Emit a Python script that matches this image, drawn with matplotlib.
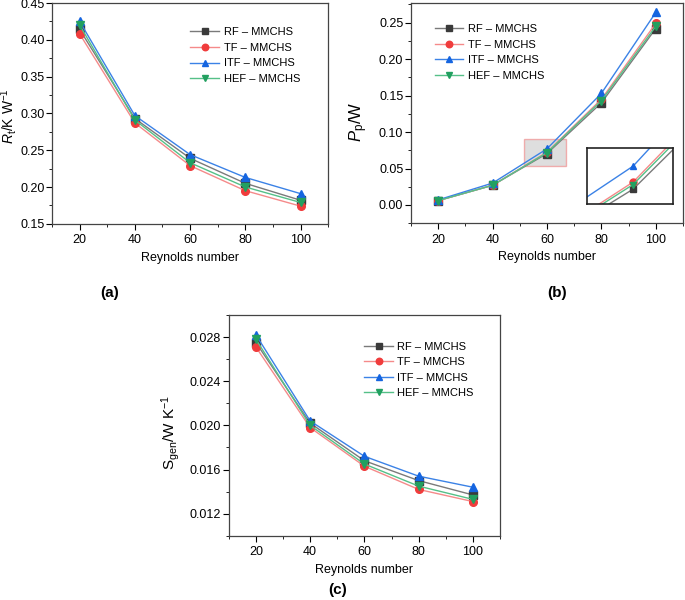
import numpy as np
import matplotlib

matplotlib.use("Agg")
import matplotlib.pyplot as plt
from matplotlib.patches import Rectangle
from matplotlib.ticker import MultipleLocator, FormatStrFormatter

plt.rcParams["font.family"] = ["Liberation Sans", "DejaVu Sans"]
plt.rcParams["mathtext.fontset"] = "custom"
plt.rcParams["mathtext.rm"] = "Liberation Sans"
plt.rcParams["mathtext.it"] = "Liberation Sans:italic"

reynolds = [20, 40, 60, 80, 100]
series = ["RF \u2013 MMCHS", "TF \u2013 MMCHS", "ITF \u2013 MMCHS", "HEF \u2013 MMCHS"]

# (a) total thermal resistance
rt_rf = [0.414, 0.293, 0.239, 0.205, 0.182]
rt_tf = [0.408, 0.287, 0.229, 0.195, 0.174]
rt_itf = [0.425, 0.297, 0.244, 0.213, 0.191]
rt_hef = [0.420, 0.291, 0.233, 0.200, 0.179]

# (b) pumping power
pp_rf = [0.006, 0.027, 0.0705, 0.140, 0.242]
pp_tf = [0.006, 0.027, 0.0725, 0.145, 0.249]
pp_itf = [0.007, 0.030, 0.077, 0.153, 0.264]
pp_hef = [0.006, 0.027, 0.0718, 0.143, 0.245]

# (c) entropy generation
sg_rf = [0.0275, 0.0202, 0.0168, 0.0150, 0.0137]
sg_tf = [0.0271, 0.0198, 0.0163, 0.0142, 0.0131]
sg_itf = [0.0282, 0.0204, 0.0172, 0.0154, 0.0144]
sg_hef = [0.0278, 0.0200, 0.0165, 0.0145, 0.0133]

line_colors = ["#7a7a7a", "#f58a8a", "#3b82e6", "#55c088"]
marker_colors = ["#3a3a3a", "#f03c3c", "#1565e0", "#22a060"]
markers = ["s", "o", "^", "v"]

fig = plt.figure(figsize=(6.85, 6.0), dpi=100)


def draw(ax, data, legend_loc, legend_anchor):
    for ys, lab, lc, mc, m in zip(data, series, line_colors, marker_colors, markers):
        ax.plot(reynolds, ys, color=lc, linewidth=1.0, marker=m, markersize=5.5,
                markerfacecolor=mc, markeredgecolor=mc, label=lab)
    ax.set_xlim(10, 110)
    ax.xaxis.set_major_locator(MultipleLocator(20))
    ax.xaxis.set_minor_locator(MultipleLocator(10))
    ax.tick_params(which="both", direction="out", labelsize=9, top=False, right=False)
    ax.tick_params(which="major", length=4)
    ax.tick_params(which="minor", length=2.5)
    ax.tick_params(axis="y", which="major", pad=1.5)
    for s in ax.spines.values():
        s.set_color("#444444")
        s.set_linewidth(0.9)
    ax.set_xlabel("Reynolds number", fontsize=9)
    ax.legend(loc=legend_loc, bbox_to_anchor=legend_anchor, frameon=False, fontsize=8,
              handlelength=2.6, labelspacing=0.5, handletextpad=0.4, markerscale=0.85)


# (a)
ax1 = fig.add_axes([0.076, 0.627, 0.403, 0.368])
draw(ax1, [rt_rf, rt_tf, rt_itf, rt_hef], "upper right", (0.935, 0.935))
ax1.set_ylim(0.15, 0.45)
ax1.yaxis.set_major_locator(MultipleLocator(0.05))
ax1.yaxis.set_minor_locator(MultipleLocator(0.025))
ax1.yaxis.set_major_formatter(FormatStrFormatter("%.2f"))
ax1.set_ylabel(r"$R_{\mathregular{t}}$/K W$^{\mathregular{-1}}$", fontsize=10)
ax1.yaxis.set_label_coords(-0.12, 0.489)

# (b)
ax2 = fig.add_axes([0.600, 0.628, 0.397, 0.367])
draw(ax2, [pp_rf, pp_tf, pp_itf, pp_hef], "upper left", (0.05, 0.95))
ax2.set_ylim(-0.025, 0.277)
ax2.yaxis.set_major_locator(MultipleLocator(0.05))
ax2.yaxis.set_minor_locator(MultipleLocator(0.025))
ax2.yaxis.set_major_formatter(FormatStrFormatter("%.2f"))
ax2.set_ylabel(r"$P_{\mathregular{p}}$/W", fontsize=12)
ax2.yaxis.set_label_coords(-0.15, 0.46)
ax2.add_patch(Rectangle((51.5, 0.053), 15.5, 0.038, facecolor="#c8c8c8", alpha=0.6,
                        edgecolor="#f08080", linewidth=1.0, zorder=0))

axin = fig.add_axes([0.857, 0.66, 0.1255, 0.0933])
for ys, lc, mc, m in zip([pp_rf, pp_tf, pp_itf, pp_hef], line_colors, marker_colors, markers):
    axin.plot(reynolds, ys, color=lc, linewidth=1.0, marker=m, markersize=5,
              markerfacecolor=mc, markeredgecolor=mc)
axin.set_xlim(56.3, 63.2)
axin.set_ylim(0.0663, 0.0821)
axin.set_xticks([])
axin.set_yticks([])
for s in axin.spines.values():
    s.set_linewidth(1.2)
    s.set_color("#222222")

# (c)
ax3 = fig.add_axes([0.334, 0.107, 0.396, 0.368])
draw(ax3, [sg_rf, sg_tf, sg_itf, sg_hef], "upper right", (0.94, 0.925))
ax3.set_ylim(0.010, 0.030)
ax3.set_yticks([0.012, 0.016, 0.020, 0.024, 0.028])
ax3.yaxis.set_minor_locator(MultipleLocator(0.002))
ax3.yaxis.set_major_formatter(FormatStrFormatter("%.3f"))
ax3.set_ylabel(r"S$_{\mathregular{gen}}$/W K$^{\mathregular{-1}}$", fontsize=11)
ax3.yaxis.set_label_coords(-0.173, 0.47)

fig.text(110 / 685, 1 - 293 / 600, "(a)", fontsize=11, fontweight="bold", ha="center", va="center")
fig.text(557 / 685, 1 - 293 / 600, "(b)", fontsize=11, fontweight="bold", ha="center", va="center")
fig.text(338 / 685, 1 - 590 / 600, "(c)", fontsize=11, fontweight="bold", ha="center", va="center")

fig.savefig("out.png", dpi=100)
